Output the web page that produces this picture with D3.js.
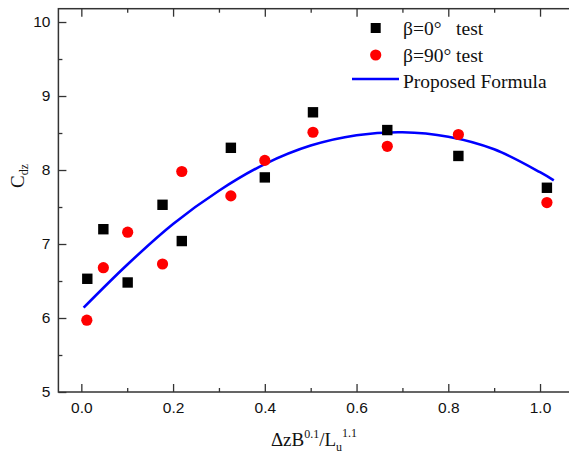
<!DOCTYPE html>
<html>
<head>
<meta charset="utf-8">
<script src="https://cdn.jsdelivr.net/npm/d3@7"></script>
<style>
  body { margin: 0; background: #fff; }
  svg { display: block; }
</style>
</head>
<body>
<svg width="569" height="454"></svg>
<script>
// data
var sqX = [0.013, 0.048, 0.101, 0.177, 0.219, 0.326, 0.40, 0.505, 0.667, 0.822, 1.015];
var sqY = [6.53, 7.20, 6.48, 7.53, 7.04, 8.30, 7.90, 8.78, 8.54, 8.19, 7.76];
var ciX = [0.012, 0.048, 0.101, 0.177, 0.219, 0.326, 0.40, 0.505, 0.667, 0.822, 1.015];
var ciY = [5.97, 6.68, 7.16, 6.73, 7.98, 7.65, 8.13, 8.51, 8.32, 8.48, 7.56];
var fitX = [0.005, 0.1, 0.2, 0.3, 0.4, 0.5, 0.6, 0.7, 0.8, 0.9, 1.0, 1.03];
var fitY = [6.14, 6.72, 7.27, 7.72, 8.08, 8.33, 8.47, 8.51, 8.45, 8.28, 7.97, 7.86];
var xMajor = [0, 0.2, 0.4, 0.6, 0.8, 1.0];
var xMinor = [0.1, 0.3, 0.5, 0.7, 0.9];
var yMajor = [5, 6, 7, 8, 9, 10];
var yMinor = [5.5, 6.5, 7.5, 8.5, 9.5];
var legendLabels = ['\u03b2=0\u00b0   test', '\u03b2=90\u00b0 test', 'Proposed Formula'];

var svg = d3.select('svg');
var scaleX = d3.scaleLinear().domain([-0.05, 1.1]).range([58.4, 585.9]);
var scaleY = d3.scaleLinear().domain([5, 10.18]).range([392, 8.7]);

var axisColor = '#333';
var serif = "'Liberation Serif', 'Times New Roman', serif";

// frame
svg.append('rect')
    .attr('x', scaleX(-0.05))
    .attr('y', scaleY(10.18))
    .attr('width', scaleX(1.1) - scaleX(-0.05))
    .attr('height', scaleY(5) - scaleY(10.18))
    .attr('fill', 'none')
    .attr('stroke', axisColor)
    .attr('stroke-width', 1.5);

function styleAxis(g) {
    g.select('.domain').remove();
    g.selectAll('line').attr('stroke', axisColor).attr('stroke-width', 1.3);
    g.selectAll('text')
        .attr('font-family', "'Liberation Sans', Arial, sans-serif")
        .attr('font-size', 15.5)
        .attr('fill', '#111');
}

// bottom axis
svg.append('g')
    .attr('transform', 'translate(0,' + scaleY(5) + ')')
    .call(d3.axisBottom(scaleX).tickValues(xMajor).tickFormat(d3.format('.1f'))
        .tickSizeInner(-8).tickSizeOuter(0).tickPadding(10))
    .call(styleAxis);
svg.append('g')
    .attr('transform', 'translate(0,' + scaleY(5) + ')')
    .call(d3.axisBottom(scaleX).tickValues(xMinor).tickFormat('')
        .tickSizeInner(-4).tickSizeOuter(0))
    .call(styleAxis);

// top axis (ticks only)
svg.append('g')
    .attr('transform', 'translate(0,' + scaleY(10.18) + ')')
    .call(d3.axisTop(scaleX).tickValues(xMajor).tickFormat('')
        .tickSizeInner(-8).tickSizeOuter(0))
    .call(styleAxis);
svg.append('g')
    .attr('transform', 'translate(0,' + scaleY(10.18) + ')')
    .call(d3.axisTop(scaleX).tickValues(xMinor).tickFormat('')
        .tickSizeInner(-4).tickSizeOuter(0))
    .call(styleAxis);

// left axis
svg.append('g')
    .attr('transform', 'translate(' + scaleX(-0.05) + ',0)')
    .call(d3.axisLeft(scaleY).tickValues(yMajor).tickFormat(d3.format('d'))
        .tickSizeInner(-8).tickSizeOuter(0).tickPadding(8))
    .call(styleAxis);
svg.append('g')
    .attr('transform', 'translate(' + scaleX(-0.05) + ',0)')
    .call(d3.axisLeft(scaleY).tickValues(yMinor).tickFormat('')
        .tickSizeInner(-4).tickSizeOuter(0))
    .call(styleAxis);

// fitted curve
var line = d3.line()
    .x(function(d) { return scaleX(d[0]); })
    .y(function(d) { return scaleY(d[1]); })
    .curve(d3.curveCatmullRom);

svg.append('path')
    .datum(d3.zip(fitX, fitY))
    .attr('d', line)
    .attr('fill', 'none')
    .attr('stroke', '#0000ff')
    .attr('stroke-width', 2.6);

// squares
svg.selectAll('.sq')
    .data(d3.zip(sqX, sqY))
    .enter()
    .append('rect')
    .attr('class', 'sq')
    .attr('x', function(d) { return scaleX(d[0]) - 5.2; })
    .attr('y', function(d) { return scaleY(d[1]) - 5.2; })
    .attr('width', 10.4)
    .attr('height', 10.4)
    .attr('fill', '#000');

// circles
svg.selectAll('.ci')
    .data(d3.zip(ciX, ciY))
    .enter()
    .append('circle')
    .attr('class', 'ci')
    .attr('cx', function(d) { return scaleX(d[0]); })
    .attr('cy', function(d) { return scaleY(d[1]); })
    .attr('r', 5.6)
    .attr('fill', '#ff0000');

// legend
var leg = svg.append('g');
leg.append('rect')
    .attr('x', 370.7).attr('y', 23).attr('width', 10).attr('height', 10)
    .attr('fill', '#000');
leg.append('circle')
    .attr('cx', 375.7).attr('cy', 55).attr('r', 5.6)
    .attr('fill', '#ff0000');
leg.append('line')
    .attr('x1', 352).attr('x2', 399).attr('y1', 79).attr('y2', 79)
    .attr('stroke', '#0000ff').attr('stroke-width', 2.6);

leg.selectAll('text')
    .data(legendLabels)
    .enter()
    .append('text')
    .attr('x', 403)
    .attr('y', function(d, i) { return 35 + i * 26.5; })
    .attr('font-family', serif)
    .attr('font-size', 19.5)
    .attr('fill', '#111')
    .style('white-space', 'pre')
    .text(function(d) { return d; });

// axis titles
var xt = svg.append('text')
    .attr('x', 314)
    .attr('y', 446)
    .attr('text-anchor', 'middle')
    .attr('font-family', serif)
    .attr('font-size', 19)
    .attr('fill', '#111');
xt.append('tspan').text('\u0394zB');
xt.append('tspan').attr('font-size', 12).attr('dy', -8).text('0.1');
xt.append('tspan').attr('dy', 8).text('/L');
xt.append('tspan').attr('font-size', 12).attr('dy', 5).text('u');
xt.append('tspan').attr('font-size', 12).attr('dy', -14).text('1.1');

var yt = svg.append('text')
    .attr('transform', 'translate(24,176) rotate(-90)')
    .attr('text-anchor', 'middle')
    .attr('font-family', serif)
    .attr('font-size', 19)
    .attr('fill', '#111');
yt.append('tspan').text('C');
yt.append('tspan').attr('font-size', 12).attr('dy', 4).text('dz');
</script>
</body>
</html>
